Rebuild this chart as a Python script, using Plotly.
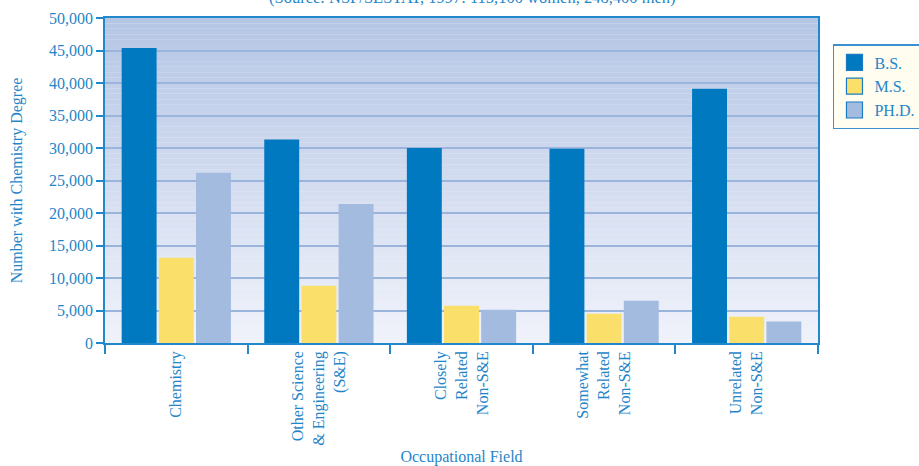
import plotly.graph_objects as go

categories = [
    "Chemistry",
    "Other Science<br>& Engineering<br>(S&E)",
    "Closely<br>Related<br>Non-S&E",
    "Somewhat<br>Related<br>Non-S&E",
    "Unrelated<br>Non-S&E",
]
series_names = ["B.S.", "M.S.", "PH.D."]
bs_values = [45400, 31300, 30000, 29900, 39100]
ms_values = [13100, 8800, 5750, 4500, 4050]
phd_values = [26200, 21400, 5100, 6500, 3300]
y_tick_values = [0, 5000, 10000, 15000, 20000, 25000, 30000, 35000, 40000, 45000, 50000]
y_tick_labels = ["0", "5,000", "10,000", "15,000", "20,000", "25,000", "30,000",
                 "35,000", "40,000", "45,000", "50,000"]

TEXT = "#1f86c9"
AXIS = "#2288cc"
GRID = "#9bb4dc"
FONT = "Liberation Serif"
colors = ["#0079c1", "#fae06a", "#a4bbe0"]

fig = go.Figure()
for name, vals, col in zip(series_names, [bs_values, ms_values, phd_values], colors):
    fig.add_trace(go.Bar(name=name, x=categories, y=vals, marker_color=col,
                         marker_line_width=0, showlegend=False, legendgroup=name))
# legend entries with larger square swatches
for name, col in zip(series_names, colors):
    fig.add_trace(go.Scatter(name=name, x=[None], y=[None], mode="markers",
                             legendgroup=name,
                             marker=dict(symbol="square", size=16, color=col,
                                         line=dict(color="#1a7cc4", width=1.2))))

# gradient plot background (styling only)
top = (0xb5, 0xc6, 0xe5)
bot = (0xf0, 0xf2, 0xfa)
n = 60
shapes = []
for i in range(n):
    t = i / (n - 1)
    c = tuple(round(bot[k] + (top[k] - bot[k]) * t) for k in range(3))
    shapes.append(dict(type="rect", xref="x domain", yref="y domain",
                       x0=0, x1=1, y0=i / n, y1=(i + 1) / n,
                       fillcolor="rgb(%d,%d,%d)" % c, line_width=0, layer="below"))

fig.update_layout(
    width=919, height=466,
    margin=dict(l=105, r=101, t=18, b=123, autoexpand=False),
    paper_bgcolor="white",
    plot_bgcolor="#eef1f9",
    font=dict(family=FONT, size=16, color=TEXT),
    barmode="group",
    bargap=0.218,
    bargroupgap=0.06,
    shapes=shapes,
    showlegend=True,
    legend=dict(x=1.021, y=0.92, xanchor="left", yanchor="top",
                bgcolor="#fffcf0", bordercolor="#3a90d0", borderwidth=1.5,
                font=dict(family=FONT, size=16, color=TEXT),
                tracegroupgap=0, itemwidth=30),
    annotations=[dict(text="(Source: NSF/SESTAT, 1997: 115,100 women, 248,400 men)",
                      xref="paper", yref="paper", x=0.516, y=1, xanchor="center",
                      yanchor="bottom", yshift=9, showarrow=False,
                      font=dict(family=FONT, size=16.5, color=TEXT))],
)
fig.update_xaxes(
    type="category",
    tickangle=-90,
    tickson="boundaries",
    ticks="outside", ticklen=9, tickwidth=1.5, tickcolor=AXIS,
    showline=True, linecolor=AXIS, linewidth=1.5, mirror=True,
    showgrid=False,
    tickfont=dict(family=FONT, size=16, color=TEXT),
    title=dict(text="Occupational Field", standoff=8, font=dict(family=FONT, size=16, color=TEXT)),
    automargin=False,
)
fig.update_yaxes(
    range=[0, 50000],
    tickvals=y_tick_values, ticktext=y_tick_labels,
    ticks="outside", ticklen=7, tickwidth=1.5, tickcolor=AXIS,
    showline=True, linecolor=AXIS, linewidth=1.5, mirror=True,
    showgrid=True, gridcolor=GRID, gridwidth=1.5,
    zeroline=False,
    tickfont=dict(family=FONT, size=16, color=TEXT),
    title=dict(text="Number with Chemistry Degree", standoff=22, font=dict(family=FONT, size=16, color=TEXT)),
    automargin=False,
)

fig.write_html("out.html")
